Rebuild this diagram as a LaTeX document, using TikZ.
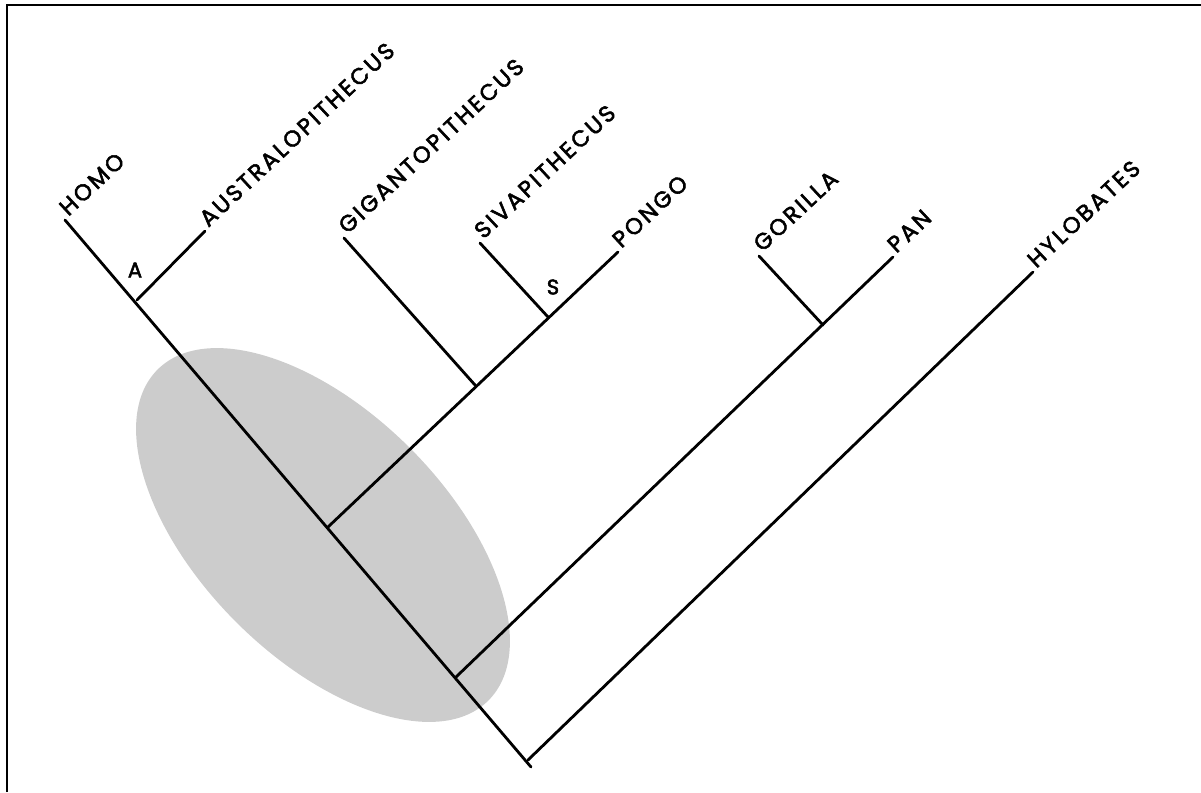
\documentclass[tikz,border=0pt]{standalone}
\usepackage{fontspec}
\usepackage{tikz}
\usetikzlibrary{positioning}

\newfontfamily\taxonfont{Poppins}[LetterSpace=11, FakeBold=2.4]

\tikzset{
    branch/.style={line width=1.6pt, line cap=round},
    taxon/.style={font=\taxonfont\fontsize{13}{13}\selectfont, rotate=43, anchor=base west, inner sep=2.5pt},
    nodelbl/.style={font=\taxonfont\fontsize{12}{12}\selectfont, inner sep=0pt}
}

\begin{document}
\begin{tikzpicture}[x=0.02cm, y=-0.02cm]
        \useasboundingbox (0,0) rectangle (1201,792);
        \draw[line width=1.5pt] (7,792) -- (7,5) -- (1201,5);

        % shaded region round the base of the tree
        \fill[gray!40, rotate around={-45:(323,535)}] (323,535) ellipse [x radius=4.68cm, y radius=2.46cm];

        % branching points
        \coordinate (root) at (531,767);
        \coordinate (jHylo) at (528,760);
        \coordinate (jAfr) at (456,677);
        \coordinate (jAsia) at (328,527);
        \coordinate (jA) at (137,300);
        \coordinate (jGiga) at (475,385);
        \coordinate (jS) at (548,317);
        \coordinate (jGor) at (823,325);

        % tips
        \node[taxon] (homo) at (65,220) {HOMO};
        \node[taxon] (austr) at (205,231) {AUSTRALOPITHECUS};
        \node[taxon] (giga) at (344,238) {GIGANTOPITHECUS};
        \node[taxon] (siva) at (480,243) {SIVAPITHECUS};
        \node[taxon] (pongo) at (618,252) {PONGO};
        \node[taxon] (gor) at (759,256) {GORILLA};
        \node[taxon] (pan) at (893,257) {PAN};
        \node[taxon] (hylo) at (1033,272) {HYLOBATES};

        \node[nodelbl] (lblA) at (135,270) {A};
        \node[nodelbl] (lblS) at (553,287) {S};

        \draw[branch] (homo.base west) -- (root);
        \draw[branch] (jA) -- (austr.base west);
        \draw[branch] (jAsia) -- (pongo.base west);
        \draw[branch] (jGiga) -- (giga.base west);
        \draw[branch] (jS) -- (siva.base west);
        \draw[branch] (jAfr) -- (pan.base west);
        \draw[branch] (jGor) -- (gor.base west);
        \draw[branch] (jHylo) -- (hylo.base west);
    \end{tikzpicture}
\end{document}
